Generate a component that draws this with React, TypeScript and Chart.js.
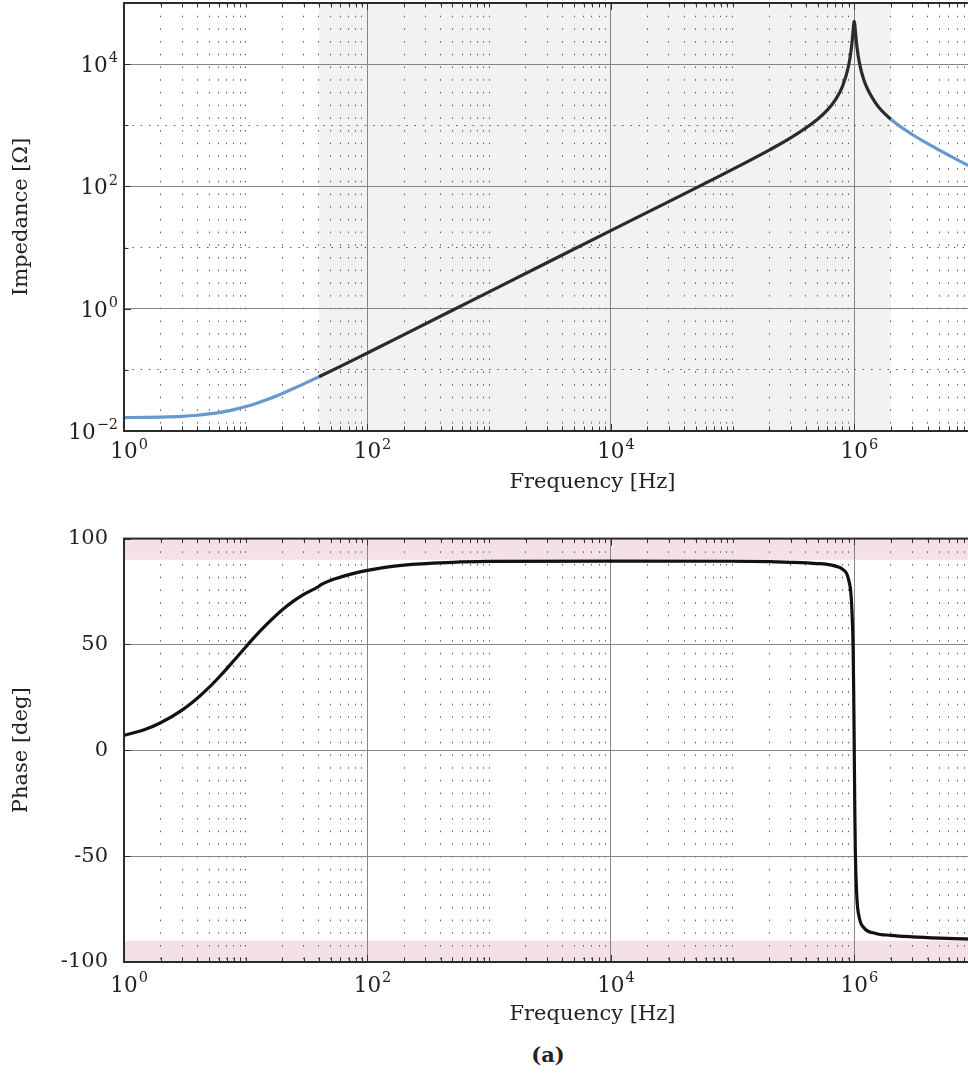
import { useEffect, useRef } from 'react';
import { Chart, registerables } from 'chart.js';

Chart.register(...registerables);

// ---------- data ----------
const FREQUENCY_HZ = [
  1, 1.5, 2, 3, 4, 5, 6, 7, 8, 10,
  12, 15, 20, 25, 30, 40, 60, 100, 200, 500,
  1e3, 1e4, 1e5, 2e5, 3e5, 5e5, 6e5, 7e5, 8e5, 9e5,
  9.5e5, 9.8e5, 9.9e5, 1e6, 1.01e6, 1.02e6, 1.05e6, 1.1e6, 1.2e6, 1.5e6,
  2e6, 3e6, 5e6, 8e6, 1e7,
];
const IMPEDANCE_OHM = [
  0.0166, 0.0167, 0.0169, 0.0174, 0.0181, 0.019, 0.02, 0.0211, 0.0224, 0.0251,
  0.028, 0.0327, 0.0412, 0.0499, 0.0589, 0.0772, 0.114, 0.189, 0.377, 0.943,
  1.89, 18.9, 190, 393, 621, 1257, 1767, 2600, 4300, 9500,
  19000, 36000, 45000, 50000, 45000, 36500, 20000, 10800, 5500, 2300,
  1257, 707, 393, 239, 190,
];

const PHASE_FREQUENCY_HZ = [
  1, 1.5, 2, 3, 4, 5, 6, 7, 8, 10,
  12, 15, 20, 25, 30, 40, 41, 60, 100, 200,
  500, 1e3, 1e4, 1e5, 2e5, 3e5, 5e5, 6e5, 7e5, 8e5,
  9e5, 9.5e5, 9.8e5, 9.9e5, 1e6, 1.01e6, 1.02e6, 1.05e6, 1.1e6, 1.2e6,
  1.5e6, 2e6, 3e6, 5e6, 8e6, 1e7,
];
const PHASE_DEG = [
  7.0, 9.9, 13.0, 19.0, 24.6, 29.7, 34.4, 38.6, 42.4, 48.8,
  53.9, 59.7, 66.4, 70.7, 73.7, 77.5, 78.0, 81.8, 85.0, 87.5,
  88.8, 89.2, 89.4, 89.3, 89.1, 88.8, 88.2, 87.8, 87.0, 85.6,
  80.5, 70.0, 47.0, 28.0, 2.0, -26.0, -46.0, -69.0, -79.0, -83.8,
  -86.5, -87.4, -88.1, -88.7, -89.1, -89.3,
];

// fit range (grey band) and phase limit bands (pink)
const FIT_BAND_HZ = [40, 2e6];
const PHASE_LIMIT_BANDS = [[90, 100], [-100, -90]];

// axes
const X_MIN_HZ = 1;
const X_MAX_HZ = 5e7;
const X_DECADES = [0, 1, 2, 3, 4, 5, 6, 7];
const X_MULTIPLES = [1, 2, 3, 4, 5, 6, 7, 8, 9];
const X_LABEL_EXPONENTS = [0, 2, 4, 6];
const IMP_MIN = 1e-2;
const IMP_MAX = 1e5;
const IMP_TICK_EXPONENTS = [-2, -1, 0, 1, 2, 3, 4, 5];
const IMP_LABEL_EXPONENTS = [-2, 0, 2, 4];
const PHASE_TICKS = [-100, -50, 0, 50, 100];

// ---------- styles ----------
const FONT_FAMILY = '"DejaVu Serif", serif';
const TEXT = '#222222';
const TICK_FONT = { family: FONT_FAMILY, size: 21 };
const TITLE_FONT = { family: FONT_FAMILY, size: 21 };
const BASE_FONT = `21.5px ${FONT_FAMILY}`;
const EXP_FONT = `14.5px ${FONT_FAMILY}`;
const MAJOR_GRID = '#858585';
const MINOR_GRID = '#5a5a5a';
const BLUE = '#6699cc';
const DARK = '#2b2b2b';
const PHASE_COLOR = '#111111';
const FIT_FILL = '#f2f2f2';
const LIMIT_FILL = '#f3e1e6';

const exponentOf = (v: number): number | null => {
  const l = Math.log10(v);
  const r = Math.round(l);
  return Math.abs(l - r) < 1e-6 ? r : null;
};

const X_TICK_VALUES: number[] = [];
X_DECADES.forEach((e) => X_MULTIPLES.forEach((m) => {
  const v = m * Math.pow(10, e);
  if (v <= X_MAX_HZ) X_TICK_VALUES.push(v);
}));
const IMP_TICK_VALUES = IMP_TICK_EXPONENTS.map((e) => Math.pow(10, e));

const isMajorX = (v: number) => {
  const e = exponentOf(v);
  return e !== null && X_LABEL_EXPONENTS.includes(e);
};
const isMajorImp = (v: number) => {
  const e = exponentOf(v);
  return e !== null && IMP_LABEL_EXPONENTS.includes(e);
};
const isMajorPhase = (_v: number) => true;

// draws "10" with a raised exponent
function drawPower(ctx: CanvasRenderingContext2D, e: number, x: number, baseline: number, align: 'center' | 'right') {
  const expText = String(e).replace('-', '\u2212');
  ctx.font = BASE_FONT;
  const wb = ctx.measureText('10').width;
  ctx.font = EXP_FONT;
  const we = ctx.measureText(expText).width;
  const bx = align === 'center' ? x - wb / 2 : x - wb - 1 - we;
  ctx.textAlign = 'left';
  ctx.textBaseline = 'alphabetic';
  ctx.fillStyle = TEXT;
  ctx.font = BASE_FONT;
  ctx.fillText('10', bx, baseline);
  ctx.font = EXP_FONT;
  ctx.fillText(expText, bx + wb + 1, baseline - 9.5);
}

function xScale(titlePadBottom: number, height: number) {
  return {
    type: 'logarithmic',
    min: X_MIN_HZ,
    max: X_MAX_HZ,
    afterBuildTicks: (s: any) => { s.ticks = X_TICK_VALUES.map((v) => ({ value: v })); },
    afterFit: (s: any) => { s.height = height; },
    grid: {
      color: (c: any) => (c.tick && isMajorX(c.tick.value) ? MAJOR_GRID : MINOR_GRID),
      lineWidth: 1,
      drawTicks: false,
    },
    border: {
      display: false,
      dash: (c: any) => (c.tick && !isMajorX(c.tick.value) ? [1.5, 11.2] : []),
    },
    ticks: { display: false, autoSkip: false },
    title: {
      display: true, text: 'Frequency [Hz]', color: TEXT, font: TITLE_FONT,
      padding: { top: 0, bottom: titlePadBottom },
    },
  };
}

function framePlugin(isMajorY: (v: number) => boolean, xLabelBaseline: number, powerY: boolean) {
  return {
    id: 'frameTicks',
    afterDraw(chart: any) {
      const { ctx, chartArea: a, scales } = chart;
      ctx.save();
      ctx.strokeStyle = '#333333';
      ctx.lineWidth = 1;
      const xs = scales.x;
      xs.ticks.forEach((t: any) => {
        const px = Math.round(xs.getPixelForValue(t.value)) + 0.5;
        if (px < a.left || px > a.right) return;
        const len = isMajorX(t.value) ? 7 : 4.5;
        ctx.beginPath();
        ctx.moveTo(px, a.bottom); ctx.lineTo(px, a.bottom - len);
        ctx.moveTo(px, a.top); ctx.lineTo(px, a.top + len);
        ctx.stroke();
      });
      const ys = scales.y;
      ys.ticks.forEach((t: any) => {
        const py = Math.round(ys.getPixelForValue(t.value)) + 0.5;
        const len = isMajorY(t.value) ? 7 : 4.5;
        ctx.beginPath();
        ctx.moveTo(a.left, py); ctx.lineTo(a.left + len, py);
        ctx.stroke();
      });
      ctx.strokeStyle = '#2b2b2b';
      ctx.lineWidth = 2;
      ctx.strokeRect(a.left, a.top, a.right - a.left, a.bottom - a.top);

      // x tick labels (powers of ten)
      xs.ticks.forEach((t: any) => {
        if (!isMajorX(t.value)) return;
        drawPower(ctx, exponentOf(t.value) as number, xs.getPixelForValue(t.value), a.bottom + xLabelBaseline, 'center');
      });
      // y tick labels (powers of ten) for the impedance axis
      if (powerY) {
        ys.ticks.forEach((t: any) => {
          if (!isMajorY(t.value)) return;
          drawPower(ctx, exponentOf(t.value) as number, a.left - 6, ys.getPixelForValue(t.value) + 7.8, 'right');
        });
      }
      ctx.restore();
    },
  };
}

const fitBandPlugin = {
  id: 'fitBand',
  beforeDraw(chart: any) {
    const { ctx, chartArea: a, scales } = chart;
    const x0 = scales.x.getPixelForValue(FIT_BAND_HZ[0]);
    const x1 = scales.x.getPixelForValue(FIT_BAND_HZ[1]);
    ctx.save();
    ctx.fillStyle = FIT_FILL;
    ctx.fillRect(x0, a.top, x1 - x0, a.bottom - a.top);
    ctx.restore();
  },
};

const limitBandPlugin = {
  id: 'limitBand',
  beforeDraw(chart: any) {
    const { ctx, chartArea: a, scales } = chart;
    ctx.save();
    ctx.fillStyle = LIMIT_FILL;
    PHASE_LIMIT_BANDS.forEach(([lo, hi]) => {
      const y0 = scales.y.getPixelForValue(hi);
      const y1 = scales.y.getPixelForValue(lo);
      ctx.fillRect(a.left, y0, a.right - a.left, y1 - y0);
    });
    ctx.restore();
  },
};

function impedanceConfig(): any {
  const inBand = (x0: number, x1: number) => x0 >= FIT_BAND_HZ[0] && x1 <= FIT_BAND_HZ[1];
  return {
    type: 'line',
    data: {
      datasets: [{
        data: FREQUENCY_HZ.map((f, i) => ({ x: f, y: IMPEDANCE_OHM[i] })),
        borderColor: BLUE,
        borderWidth: 3.2,
        pointRadius: 0,
        cubicInterpolationMode: 'monotone',
        segment: {
          borderColor: (c: any) => (inBand(c.p0.parsed.x, c.p1.parsed.x) ? DARK : BLUE),
        },
      }],
    },
    options: {
      animation: false,
      responsive: false,
      devicePixelRatio: 1,
      layout: { padding: { top: 15, right: 19, bottom: 0, left: 0 } },
      plugins: { legend: { display: false }, tooltip: { enabled: false } },
      scales: {
        x: xScale(14.7, 79),
        y: {
          type: 'logarithmic',
          min: IMP_MIN,
          max: IMP_MAX,
          afterBuildTicks: (s: any) => { s.ticks = IMP_TICK_VALUES.map((v) => ({ value: v })); },
          afterFit: (s: any) => { s.width = 124; },
          grid: {
            color: (c: any) => (c.tick && isMajorImp(c.tick.value) ? MAJOR_GRID : MINOR_GRID),
            lineWidth: 1,
            drawTicks: false,
          },
          border: {
            display: false,
            dash: (c: any) => (c.tick && !isMajorImp(c.tick.value) ? [1.5, 6.8] : []),
          },
          ticks: { display: false, autoSkip: false },
          title: {
            display: true, text: 'Impedance [Ω]', color: TEXT, font: TITLE_FONT,
            padding: { top: 8.7, bottom: 0 },
          },
        },
      },
    },
    plugins: [fitBandPlugin, framePlugin(isMajorImp, 27, true)],
  };
}

function phaseConfig(): any {
  return {
    type: 'line',
    data: {
      datasets: [{
        data: PHASE_FREQUENCY_HZ.map((f, i) => ({ x: f, y: PHASE_DEG[i] })),
        borderColor: PHASE_COLOR,
        borderWidth: 3.2,
        pointRadius: 0,
        cubicInterpolationMode: 'monotone',
      }],
    },
    options: {
      animation: false,
      responsive: false,
      devicePixelRatio: 1,
      layout: { padding: { top: 25, right: 19, bottom: 0, left: 0 } },
      plugins: { legend: { display: false }, tooltip: { enabled: false } },
      scales: {
        x: xScale(12.7, 78),
        y: {
          type: 'linear',
          min: -100,
          max: 100,
          afterBuildTicks: (s: any) => { s.ticks = PHASE_TICKS.map((v) => ({ value: v })); },
          afterFit: (s: any) => { s.width = 124; },
          grid: { color: MAJOR_GRID, lineWidth: 1, drawTicks: false },
          border: { display: false },
          ticks: {
            autoSkip: false, padding: 16, color: TEXT, font: TICK_FONT,
            callback: (v: number) => String(v),
          },
          title: {
            display: true, text: 'Phase [deg]', color: TEXT, font: TITLE_FONT,
            padding: { top: 8.7, bottom: 0 },
          },
        },
      },
    },
    plugins: [limitBandPlugin, framePlugin(isMajorPhase, 29.5, false)],
  };
}

export default function App() {
  const topRef = useRef<HTMLCanvasElement>(null);
  const bottomRef = useRef<HTMLCanvasElement>(null);

  useEffect(() => {
    const c1 = new Chart(topRef.current as HTMLCanvasElement, impedanceConfig());
    const c2 = new Chart(bottomRef.current as HTMLCanvasElement, phaseConfig());
    return () => { c1.destroy(); c2.destroy(); };
  }, []);

  return (
    <div style={{ position: 'absolute', left: 0, top: 0, width: 968, height: 1079, overflow: 'hidden', background: '#ffffff' }}>
      <canvas ref={topRef} width={1080} height={522}
        style={{ position: 'absolute', left: 0, top: -12, width: 1080, height: 522 }} />
      <canvas ref={bottomRef} width={1080} height={530}
        style={{ position: 'absolute', left: 0, top: 510, width: 1080, height: 530 }} />
      <div style={{
        position: 'absolute', left: 448, top: 1040, width: 200, textAlign: 'center',
        fontFamily: FONT_FAMILY, fontWeight: 'bold', fontSize: 21, lineHeight: '30px', color: TEXT,
      }}>(a)</div>
    </div>
  );
}
